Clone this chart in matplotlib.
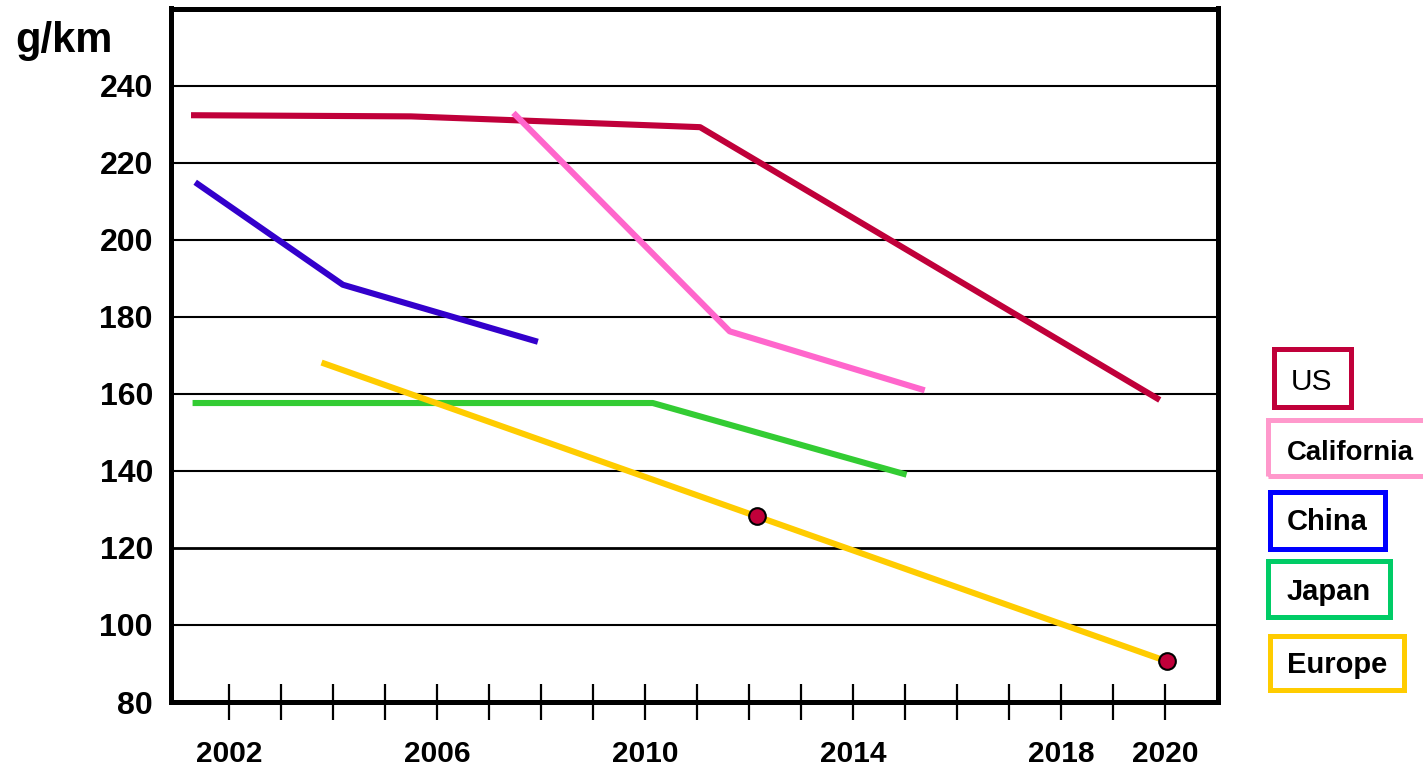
import matplotlib
matplotlib.use("Agg")
import matplotlib.pyplot as plt
from matplotlib.patches import Rectangle

plt.rcParams['font.family'] = ['Liberation Sans', 'DejaVu Sans']

# ---- data ----
us_years = [2001.27, 2005.5, 2011.06, 2019.9]
us_vals = [232.3, 232.0, 229.2, 158.4]

ca_years = [2007.47, 2011.63, 2015.38]
ca_vals = [232.9, 176.2, 160.9]

cn_years = [2001.35, 2004.19, 2007.94]
cn_vals = [214.9, 188.3, 173.5]

jp_years = [2001.3, 2010.15, 2015.03]
jp_vals = [157.6, 157.6, 139.0]

eu_years = [2003.78, 2020.03]
eu_vals = [168.1, 90.6]

eu_marker_years = [2012.15, 2020.03]
eu_marker_vals = [128.4, 90.6]

y_ticks = [80, 100, 120, 140, 160, 180, 200, 220, 240]
x_tick_years = list(range(2002, 2021))
x_labelled = [2002, 2006, 2010, 2014, 2018, 2020]

legend_names = ["US", "California", "China", "Japan", "Europe"]
legend_colors = ["#C0003A", "#FF99CC", "#0000FF", "#00CC66", "#FFCC00"]
line_colors = ["#C0003A", "#FF66CC", "#3300CC", "#33CC33", "#FFCC00"]

W, H = 1423, 767
fig = plt.figure(figsize=(W / 100, H / 100), dpi=100)
ax = fig.add_axes([171 / W, 1 - 702 / H, (1218 - 171) / W, (702 - 8.5) / H])
ax.set_xlim(2000.885, 2021.02)
ax.set_ylim(80, 260)

# grid lines
for v in y_ticks[1:]:
    ax.axhline(v, color='black', lw=2.0 if v == 120 else 1.5, zorder=1)

lw = 4.4
series = [(us_years, us_vals), (ca_years, ca_vals), (cn_years, cn_vals),
          (jp_years, jp_vals), (eu_years, eu_vals)]
for (xs, ys), c in zip(series, line_colors):
    ax.plot(xs, ys, color=c, lw=lw, solid_capstyle='butt', zorder=3)

ax.plot(eu_marker_years, eu_marker_vals, linestyle='none', marker='o',
        markersize=12, markerfacecolor='#C0003A', markeredgecolor='black',
        markeredgewidth=1.5, zorder=4)

for s in ax.spines.values():
    s.set_linewidth(3.6)
    s.set_color('black')

ax.set_yticks(y_ticks)
ax.set_yticklabels([str(v) for v in y_ticks], fontsize=23, fontweight='bold')
ax.tick_params(axis='y', length=0, pad=13)

ax.set_xticks(x_tick_years)
ax.set_xticklabels([str(y) if y in x_labelled else '' for y in x_tick_years],
                   fontsize=21.5, fontweight='bold')
ax.tick_params(axis='x', direction='inout', length=26.6, width=1.6, pad=14)

fig.text(15 / W, 1 - 52 / H, "g/km", fontsize=30, fontweight='bold',
         ha='left', va='baseline')

# legend boxes (figure pixel coordinates: left, top, right, bottom)
boxes = [(1271, 346, 1353, 409), (1265, 418, 1428, 479), (1267, 489, 1387, 551),
         (1265, 558, 1392, 619), (1267, 633, 1406, 692)]
text_pos = [(1291, 390), (1287, 460), (1287, 530), (1287, 600), (1287, 673)]
text_sizes = [21.5, 19.8, 21, 21, 21]
bw = 5
for name, col, (l, t, r, b), (tx, ty), fs in zip(legend_names, legend_colors, boxes,
                                                 text_pos, text_sizes):
    rect = Rectangle(((l + bw / 2) / W, 1 - (b - bw / 2) / H),
                     (r - l - bw) / W, (b - t - bw) / H,
                     transform=fig.transFigure, fill=False,
                     edgecolor=col, linewidth=bw * 0.72)
    fig.add_artist(rect)
    fig.text(tx / W, 1 - ty / H, name, fontsize=fs,
             fontweight='normal' if name == "US" else 'bold',
             ha='left', va='baseline')

fig.savefig("out.png", dpi=100)
